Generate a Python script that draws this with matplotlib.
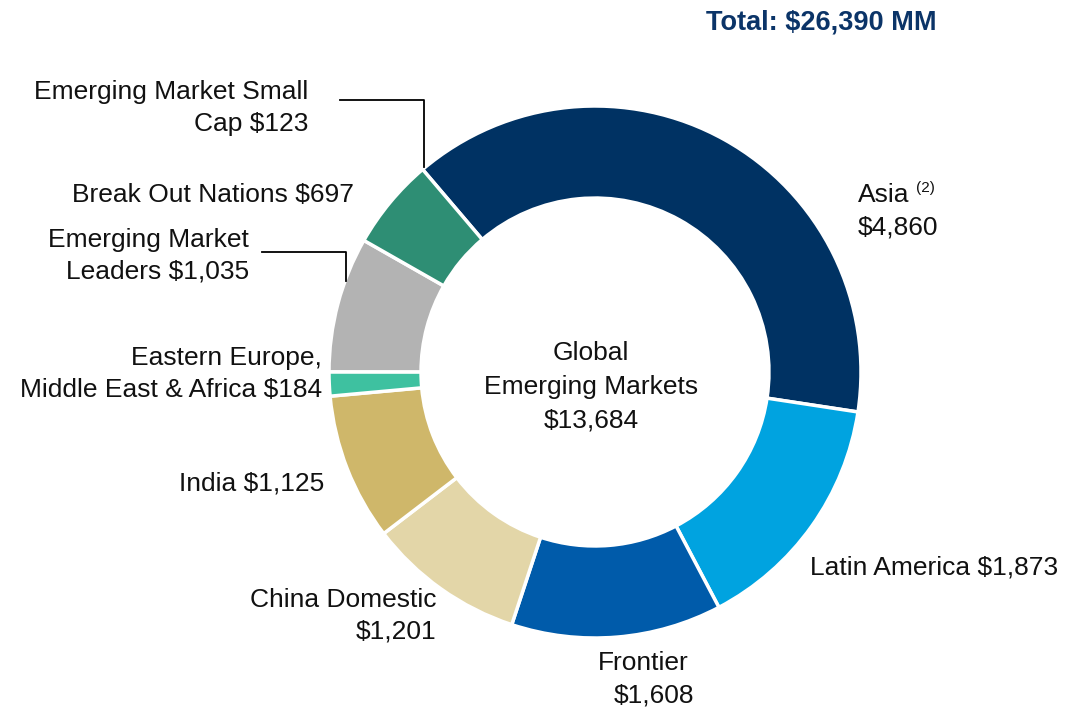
import matplotlib.pyplot as plt

plt.rcParams['font.family'] = ['Liberation Sans', 'DejaVu Sans']

# slices drawn in the ring, clockwise from Asia
segments = ["Asia", "Latin America", "Frontier", "China Domestic", "India",
            "Eastern Europe, Middle East & Africa", "Emerging Market Leaders",
            "Break Out Nations"]
values = [4860, 1873, 1608, 1201, 1125, 184, 1035, 697]
colors = ["#003263", "#00A3E0", "#005BAA", "#E3D6A8", "#CFB76A",
          "#3EC1A0", "#B3B3B3", "#2E8E74"]

small_cap = 123
global_em = 13684
total = 26390

W, H = 1074, 710
fig = plt.figure(figsize=(W / 100, H / 100), dpi=100)
ax = fig.add_axes([0, 0, 1, 1])

cx, cy, R = 595, H - 372, 266
ax.pie(values, colors=colors, startangle=130.4, counterclock=False,
       center=(cx, cy), radius=R, frame=True,
       wedgeprops=dict(width=R * 0.346, edgecolor='white', linewidth=2.5))
ax.set_xlim(0, W)
ax.set_ylim(0, H)
ax.set_aspect('equal')
ax.axis('off')

fs = 19


def txt(x, y, s, ha='left', ls=1.4, **kw):
    ax.text(x, H - y, s, ha=ha, va='center', fontsize=fs, color='#111111',
            linespacing=ls, **kw)


ax.text(937, H - 22, f"Total: ${total:,} MM", ha='right', va='center',
        fontsize=19.5, fontweight='bold', color='#0B3468')

txt(591, 387, f"Global\nEmerging Markets\n${global_em:,}", ha='center', ls=1.5)

txt(858, 195, "Asia")
ax.text(916, H - 188, "(2)", ha='left', va='center', fontsize=11, color='#111111')
txt(858, 228, f"${values[0]:,}")
txt(810, 567, f"Latin America ${values[1]:,}")
txt(643, 663, "Frontier", ha='center')
txt(654, 695, f"${values[2]:,}", ha='center')
txt(436, 616, f"China Domestic\n${values[3]:,}", ha='right')
txt(324, 483, f"India ${values[4]:,}", ha='right')
txt(322, 374, f"Eastern Europe,\nMiddle East & Africa ${values[5]:,}", ha='right')
txt(249, 256, f"Emerging Market\nLeaders ${values[6]:,}", ha='right')
txt(354, 195, f"Break Out Nations ${values[7]:,}", ha='right')
txt(308, 108, f"Emerging Market Small\nCap ${small_cap:,}", ha='right')

# leader lines
ax.plot([340, 424, 424], [H - 100, H - 100, H - 167], color='black', lw=1.3)
ax.plot([262, 346, 346], [H - 252, H - 252, H - 281], color='black', lw=1.3)

fig.savefig("out.png", dpi=100)
